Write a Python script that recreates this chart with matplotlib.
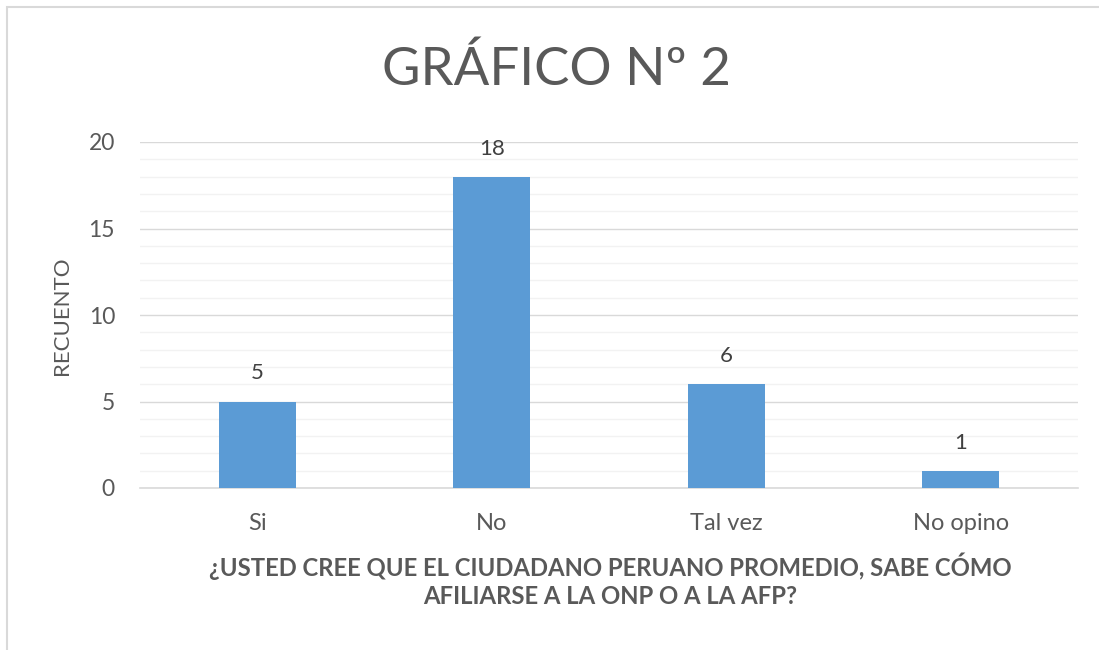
import matplotlib
matplotlib.use("Agg")
import matplotlib.pyplot as plt
from matplotlib.ticker import MultipleLocator
from matplotlib.patches import Rectangle

categories = ["Si", "No", "Tal vez", "No opino"]
values = [5, 18, 6, 1]
yticks = [0, 5, 10, 15, 20]
title = "GRÁFICO Nº 2"
ylabel = "RECUENTO"
xlabel = "¿USTED CREE QUE EL CIUDADANO PERUANO PROMEDIO, SABE CÓMO\nAFILIARSE A LA ONP O A LA AFP?"

plt.rcParams['font.family'] = ['Lato', 'DejaVu Sans']
gray = "#595959"

fig = plt.figure(figsize=(10.99, 6.5), dpi=100)
fig.patches.append(Rectangle((7/1099, -0.1), 1.2, 1 - 7/650 + 0.1, transform=fig.transFigure,
                             fill=False, edgecolor="#d9d9d9", linewidth=1.5))
ax = fig.add_axes([140/1099, 1 - 488/650, (1078 - 140)/1099, (488 - 142)/650])

x = range(len(categories))
bars = ax.bar(x, values, width=0.33, color="#5B9BD5", zorder=3)
for xi, v in zip(x, values):
    ax.annotate(str(v), (xi, v), xytext=(0, 13), textcoords="offset points",
                ha="center", va="bottom", fontsize=16, color="#404040")

ax.set_xlim(-0.5, len(categories) - 0.5)
ax.set_ylim(0, 20)
ax.set_yticks(yticks)
ax.yaxis.set_minor_locator(MultipleLocator(1))
ax.grid(which="major", axis="y", color="#d9d9d9", linewidth=1.0, zorder=0)
ax.grid(which="minor", axis="y", color="#f2f2f2", linewidth=1.0, zorder=0)
ax.set_xticks(list(x))
ax.set_xticklabels(categories)
ax.tick_params(axis="both", which="both", length=0, colors=gray)
ax.tick_params(axis="x", labelsize=17, pad=18)
ax.tick_params(axis="y", labelsize=16.5, pad=18)
for s in ["top", "right", "left"]:
    ax.spines[s].set_visible(False)
ax.spines["bottom"].set_color("#d9d9d9")
ax.spines["bottom"].set_linewidth(1.2)

fig.text(556/1099, 1 - 70/650, title, ha="center", va="center",
         fontsize=38, color=gray)
fig.text(62/1099, 1 - 316/650, ylabel, rotation=90, ha="center", va="center",
         fontsize=16, color=gray)
fig.text(610/1099, 1 - 580/650, xlabel, ha="center", va="center", fontsize=17.2,
         fontweight="bold", color=gray, linespacing=1.25)

fig.savefig("out.png", dpi=100)
